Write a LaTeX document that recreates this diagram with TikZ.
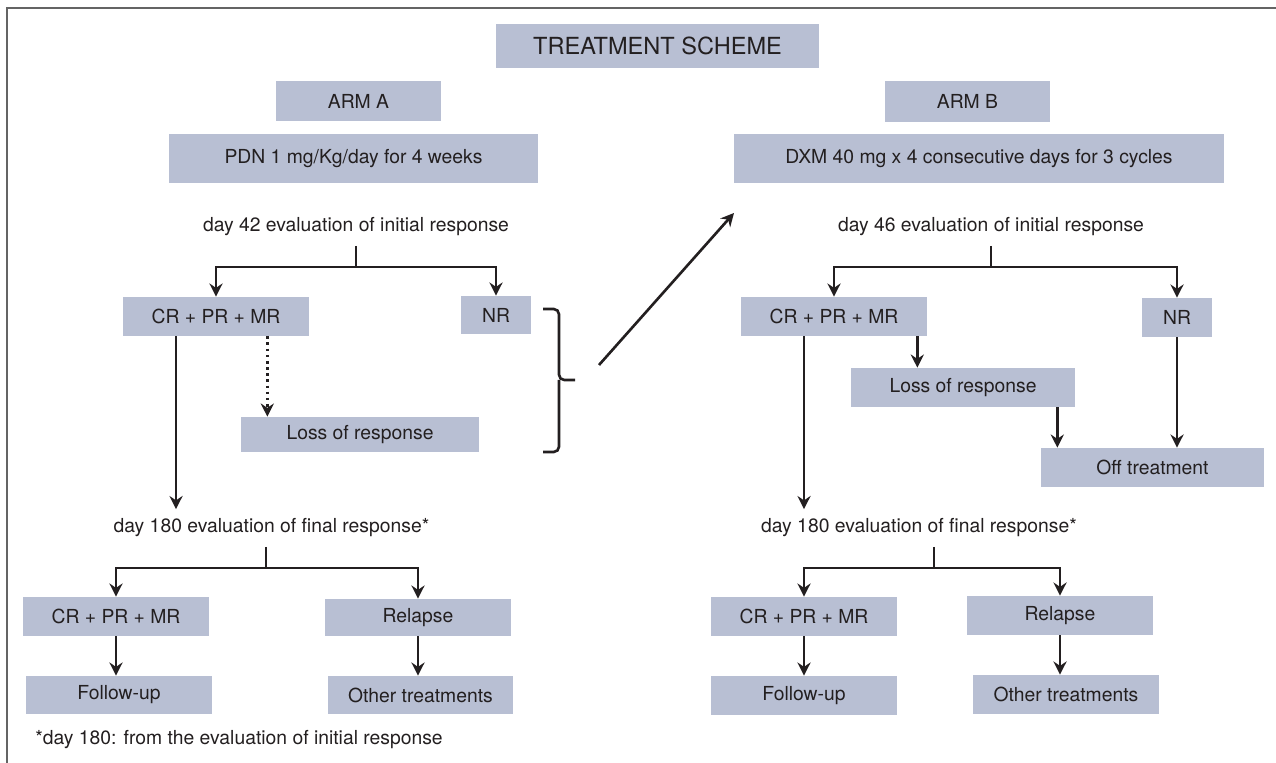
\documentclass[tikz,border=0pt]{standalone}
\usepackage{fontspec}
\setmainfont{TeX Gyre Heros}
\usetikzlibrary{arrows.meta}
\definecolor{boxblue}{RGB}{184,191,211}
\definecolor{ink}{RGB}{35,31,32}
\definecolor{framegray}{RGB}{100,100,100}
\tikzset{
  box/.style={fill=boxblue, inner sep=0pt, text=ink, font=\fontsize{11}{13}\selectfont},
  evaltext/.style={inner sep=0pt, minimum height=0.74cm, text=ink, font=\fontsize{11}{13}\selectfont},
  link/.style={draw=ink, line width=1.5pt},
  arr/.style={link, -{Stealth[length=7.5pt, width=7.5pt, inset=2.5pt]}},
}
\begin{document}
\begin{tikzpicture}[x=0.02cm, y=-0.02cm]
\useasboundingbox (0,0) rectangle (1276,763);
\draw[framegray, line width=1.1pt] (7,763) -- (7,8) -- (1276,8);
% heading
\node[box, minimum width=6.46cm, minimum height=0.88cm, font=\fontsize{13.4}{16}\selectfont] (title) at (657.5,46) {TREATMENT SCHEME};
\node[box, minimum width=3.3cm, minimum height=0.8cm] (armA) at (358.5,101) {ARM A};
\node[box, minimum width=3.3cm, minimum height=0.82cm] (armB) at (967.5,101.5) {ARM B};
\node[box, minimum width=7.38cm, minimum height=0.98cm] (pdn) at (353.5,158.5) {PDN 1 mg/Kg/day for 4 weeks};
\node[box, minimum width=9.8cm, minimum height=0.98cm] (dxm) at (979,158.5) {DXM 40 mg x 4 consecutive days for 3 cycles};
% arm A
\node[evaltext] (evalA) at (356,227) {day 42 evaluation of initial response};
\node[box, minimum width=3.72cm, minimum height=0.78cm] (crA) at (216,316.5) {CR + PR + MR};
\node[box, minimum width=1.4cm, minimum height=0.76cm] (nrA) at (496,315) {NR};
\node[box, minimum width=4.76cm, minimum height=0.7cm] (lossA) at (360,434.5) {Loss of response};
\node[evaltext] (finA) at (271.5,528) {day 180 evaluation of final response*};
\node[box, minimum width=3.72cm, minimum height=0.78cm] (crA2) at (116,616.5) {CR + PR + MR};
\node[box, minimum width=3.72cm, minimum height=0.74cm] (relA) at (418,617.5) {Relapse};
\node[box, minimum width=3.72cm, minimum height=0.76cm] (fuA) at (119,695) {Follow-up};
\node[box, minimum width=3.7cm, minimum height=0.76cm] (othA) at (420.5,695) {Other treatments};
\node[evaltext, anchor=west] (note) at (35,740) {*day 180: from the evaluation of initial response};
% arm B
\node[evaltext] (evalB) at (991,227) {day 46 evaluation of initial response};
\node[box, minimum width=3.72cm, minimum height=0.78cm] (crB) at (834,316.5) {CR + PR + MR};
\node[box, minimum width=1.4cm, minimum height=0.78cm] (nrB) at (1177,317.5) {NR};
\node[box, minimum width=4.48cm, minimum height=0.78cm] (lossB) at (963,387.5) {Loss of response};
\node[box, minimum width=4.46cm, minimum height=0.78cm] (offB) at (1152.5,467.5) {Off treatment};
\node[evaltext] (finB) at (919,528) {day 180 evaluation of final response*};
\node[box, minimum width=3.72cm, minimum height=0.78cm] (crB2) at (804,616.5) {CR + PR + MR};
\node[box, minimum width=3.72cm, minimum height=0.78cm] (relB) at (1060,615.5) {Relapse};
\node[box, minimum width=3.72cm, minimum height=0.78cm] (fuB) at (804,695.5) {Follow-up};
\node[box, minimum width=3.72cm, minimum height=0.78cm] (othB) at (1066,694.5) {Other treatments};
% arrows arm A
\coordinate (forkA) at (356,267);
\draw[link] (evalA.south) -- (forkA);
\draw[arr] (forkA) -| (crA.north);
\draw[arr] (forkA) -| (nrA.north);
\draw[arr, dotted] ([xshift=-0.84cm]crA.south east) -- ([xshift=-0.84cm]crA.south east |- lossA.north);
\draw[arr] ([xshift=-0.8cm]crA.south) -- ([xshift=-0.8cm]crA.south |- finA.north);
\coordinate (forkA2) at (266,568);
\draw[link] (finA.south -| forkA2) -- (forkA2);
\draw[arr] (forkA2) -| (crA2.north);
\draw[arr] (forkA2) -| (relA.north);
\draw[arr] (crA2.south) -- (crA2.south |- fuA.north);
\draw[arr] (relA.south) -- (relA.south |- othA.north);
% bracket and switch to arm B
\coordinate (brtop) at (543,309);
\coordinate (brmid) at (575,380);
\coordinate (brbot) at (543,452);
\draw[link, rounded corners=3pt] (brtop) -| (559,380) -- (brmid);
\draw[link, rounded corners=3pt] (559,380) |- (brbot);
\coordinate (jumpA) at (599,365);
\coordinate (jumpB) at (734,213);
\draw[arr] (jumpA) -- (jumpB);
% arrows arm B
\coordinate (forkB) at (991,267);
\draw[link] (evalB.south) -- (forkB);
\draw[arr] (forkB) -| (crB.north);
\draw[arr] (forkB) -| (nrB.north);
\draw[arr] ([xshift=-0.2cm]crB.south east) -- ([xshift=-0.2cm]crB.south east |- lossB.north);
\draw[arr] ([xshift=-0.36cm]lossB.south east) -- ([xshift=-0.36cm]lossB.south east |- offB.north);
\draw[arr] (nrB.south) -- (nrB.south |- offB.north);
\draw[arr] ([xshift=-0.6cm]crB.south) -- ([xshift=-0.6cm]crB.south |- finB.north);
\coordinate (forkB2) at (934,568);
\draw[link] (finB.south -| forkB2) -- (forkB2);
\draw[arr] (forkB2) -| (crB2.north);
\draw[arr] (forkB2) -| (relB.north);
\draw[arr] (crB2.south) -- (crB2.south |- fuB.north);
\draw[arr] (relB.south) -- (relB.south |- othB.north);
\end{tikzpicture}
\end{document}
